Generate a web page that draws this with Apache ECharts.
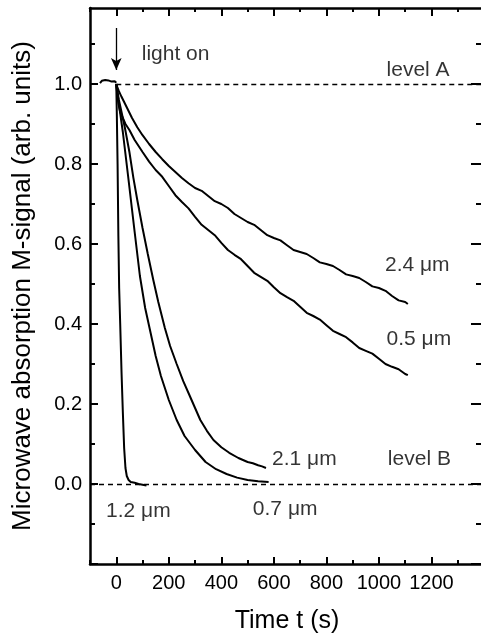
<!DOCTYPE html>
<html>
<head>
<meta charset="utf-8">
<script src="https://cdn.jsdelivr.net/npm/echarts@6/dist/echarts.min.js"></script>
<style>html,body{margin:0;padding:0;background:#fff}#c{width:481px;height:641px}</style>
</head>
<body>
<div id="c"></div>
<script>
// ---- data ----
const xMajor = [0, 200, 400, 600, 800, 1000, 1200];
const xMinor = [-100, 100, 300, 500, 700, 900, 1100, 1300];
const yMajor = [0, 0.2, 0.4, 0.6, 0.8, 1.0];
const yMajorTicks = [-0.2, 0, 0.2, 0.4, 0.6, 0.8, 1.0];
const yMinor = [-0.1, 0.1, 0.3, 0.5, 0.7, 0.9, 1.1];

const preT = [-62, -55, -48, -42, -36, -30, -24, -18, -12, -6, 0];
const preM = [1.002, 1.008, 1.004, 1.010, 1.005, 1.009, 1.012, 1.006, 1.010, 1.007, 1.003];

const t24 = [0, 5, 10, 20, 30, 45, 60, 80, 100, 125, 150, 175, 200, 225, 250, 275, 300, 325, 350, 375, 400, 425, 450, 475, 500, 525, 550, 575, 600, 625, 650, 675, 700, 725, 750, 775, 800, 825, 850, 875, 900, 925, 950, 975, 1000, 1025, 1050, 1075, 1100, 1110];
const m24 = [1.0, 0.99, 0.982, 0.968, 0.955, 0.935, 0.915, 0.892, 0.872, 0.85, 0.83, 0.812, 0.795, 0.78, 0.765, 0.752, 0.74, 0.733, 0.72, 0.707, 0.70, 0.69, 0.675, 0.665, 0.655, 0.648, 0.635, 0.622, 0.615, 0.609, 0.597, 0.585, 0.58, 0.575, 0.565, 0.554, 0.55, 0.545, 0.535, 0.524, 0.52, 0.515, 0.505, 0.494, 0.49, 0.483, 0.47, 0.459, 0.455, 0.45];

const t05 = [0, 5, 10, 15, 25, 35, 50, 70, 100, 125, 150, 175, 200, 225, 250, 275, 300, 325, 350, 375, 400, 425, 450, 475, 500, 525, 550, 575, 600, 625, 650, 675, 700, 725, 750, 775, 800, 825, 850, 875, 900, 925, 950, 975, 1000, 1025, 1050, 1075, 1100, 1110];
const m05 = [1.0, 0.965, 0.945, 0.93, 0.915, 0.9, 0.885, 0.86, 0.83, 0.806, 0.785, 0.768, 0.745, 0.722, 0.705, 0.689, 0.668, 0.648, 0.635, 0.622, 0.603, 0.585, 0.573, 0.562, 0.545, 0.528, 0.518, 0.508, 0.492, 0.477, 0.467, 0.458, 0.443, 0.428, 0.42, 0.411, 0.397, 0.383, 0.375, 0.367, 0.354, 0.34, 0.333, 0.326, 0.313, 0.3, 0.293, 0.287, 0.275, 0.272];

const t21 = [0, 10, 20, 33, 50, 65, 80, 100, 120, 141, 160, 185, 205, 230, 255, 280, 300, 320, 345, 370, 400, 430, 465, 500, 520, 540, 555, 570];
const m21 = [1.0, 0.96, 0.93, 0.89, 0.83, 0.766, 0.71, 0.64, 0.575, 0.51, 0.455, 0.39, 0.345, 0.30, 0.257, 0.22, 0.19, 0.16, 0.133, 0.11, 0.092, 0.078, 0.065, 0.055, 0.052, 0.047, 0.044, 0.04];

const t07 = [0, 10, 25, 45, 70, 90, 110, 130, 150, 170, 200, 230, 260, 300, 340, 380, 420, 460, 500, 540, 580];
const m07 = [1.0, 0.95, 0.88, 0.77, 0.63, 0.52, 0.44, 0.38, 0.32, 0.27, 0.21, 0.16, 0.12, 0.085, 0.055, 0.037, 0.025, 0.016, 0.01, 0.007, 0.005];

const t12 = [0, 2, 5, 8, 11, 15, 20, 25, 30, 35, 40, 47, 55, 70, 85, 100, 115];
const m12 = [1.0, 0.93, 0.8, 0.62, 0.49, 0.4, 0.28, 0.18, 0.09, 0.04, 0.02, 0.01, 0.005, 0.003, 0.0, -0.002, -0.004];

const annotTexts = ['light on', 'level A', '2.4 μm', '0.5 μm', '2.1 μm', 'level B', '0.7 μm', '1.2 μm'];
const annotX = [97, 1029, 1023, 1029, 593, 1034, 520, -39];
const annotY = [1.075, 1.034, 0.547, 0.363, 0.063, 0.063, -0.063, -0.068];

const levelA = 1.0, levelB = 0.0;
const arrowFrom = [0, 1.14], arrowTo = [0, 1.035];

// ---- chart ----
const FF = '"Liberation Sans", Arial, Helvetica, sans-serif';
const pairs = (t, m) => t.map((v, i) => [v, m[i]]);
const gridRect = {left: 90, top: 8, width: 394, height: 556, outerBoundsMode: 'none', containLabel: false};
const BLACK = '#000';

function xAx(grid, pos, ticks, len, line, labels) {
  return {
    gridIndex: grid, type: 'value', position: pos, min: -100, max: 1400,
    axisLine: {show: line, onZero: false, lineStyle: {color: BLACK, width: 2.5}},
    axisTick: {show: true, inside: true, length: len, customValues: ticks, lineStyle: {color: BLACK, width: 2}},
    axisLabel: {show: labels, customValues: ticks, fontSize: 20, color: BLACK, margin: 9, fontFamily: FF,
      formatter: v => String(Math.round(v))},
    splitLine: {show: false}
  };
}
function yAx(grid, pos, ticks, len, line, labels) {
  return {
    gridIndex: grid, type: 'value', position: pos, min: -0.2, max: 1.19,
    axisLine: {show: line, onZero: false, lineStyle: {color: BLACK, width: 2.5}},
    axisTick: {show: true, inside: true, length: len, customValues: ticks, lineStyle: {color: BLACK, width: 2}},
    axisLabel: {show: labels, customValues: labels ? yMajor : ticks, fontSize: 20, color: BLACK, margin: 8, fontFamily: FF,
      formatter: v => Number(v).toFixed(1)},
    splitLine: {show: false}
  };
}

const xBottom = xAx(0, 'bottom', xMajor, 7, true, true);
xBottom.name = 'Time t (s)';
xBottom.nameLocation = 'middle';
xBottom.nameGap = 45;
xBottom.nameTextStyle = {fontSize: 25, color: BLACK, fontFamily: FF};

const yLeft = yAx(0, 'left', yMajorTicks, 8, true, true);
yLeft.name = 'Microwave absorption M-signal (arb. units)';
yLeft.nameLocation = 'middle';
yLeft.nameGap = 54;
yLeft.nameTextStyle = {fontSize: 26, color: BLACK, fontFamily: FF};

const curveStyle = {color: BLACK, width: 2};
function curve(t, m) {
  return {type: 'line', xAxisIndex: 0, yAxisIndex: 0, data: pairs(t, m), showSymbol: false, symbol: 'none',
    lineStyle: curveStyle, silent: true, z: 3};
}

const option = {
  animation: false,
  backgroundColor: '#fff',
  grid: [Object.assign({}, gridRect), Object.assign({}, gridRect)],
  xAxis: [xBottom, xAx(0, 'top', xMajor, 8, true, false), xAx(1, 'bottom', xMinor, 4, false, false), xAx(1, 'top', xMinor, 4, false, false)],
  yAxis: [yLeft, yAx(0, 'right', yMajorTicks, 13, true, false), yAx(1, 'left', yMinor, 5, false, false), yAx(1, 'right', yMinor, 8, false, false)],
  series: [
    {
      type: 'line', xAxisIndex: 0, yAxisIndex: 0, data: pairs(preT, preM), showSymbol: false, symbol: 'none',
      lineStyle: curveStyle, silent: true, z: 3,
      markLine: {
        silent: true, symbol: 'none', label: {show: false}, animation: false,
        lineStyle: {color: BLACK, width: 1.3, type: [5, 4]},
        emphasis: {disabled: true},
        data: [
          [{coord: [0, levelA]}, {coord: [1400, levelA]}],
          [{coord: [-100, levelB]}, {coord: [1400, levelB]}],
          [{coord: arrowFrom, symbol: 'none', lineStyle: {type: 'solid', width: 1.3}}, {coord: arrowTo, symbol: 'arrow', symbolSize: [8, 12]}]
        ]
      }
    },
    curve(t24, m24),
    curve(t05, m05),
    curve(t21, m21),
    curve(t07, m07),
    curve(t12, m12),
    {
      type: 'scatter', xAxisIndex: 0, yAxisIndex: 0, symbolSize: 0, silent: true,
      data: annotX.map((x, i) => [x, annotY[i]]),
      label: {show: true, position: 'right', distance: 0, fontSize: 21, color: BLACK, fontFamily: FF,
        formatter: p => annotTexts[p.dataIndex]}
    }
  ]
};

const chart = echarts.init(document.getElementById('c'), null, {renderer: 'canvas'});
chart.setOption(option);
</script>
</body>
</html>
